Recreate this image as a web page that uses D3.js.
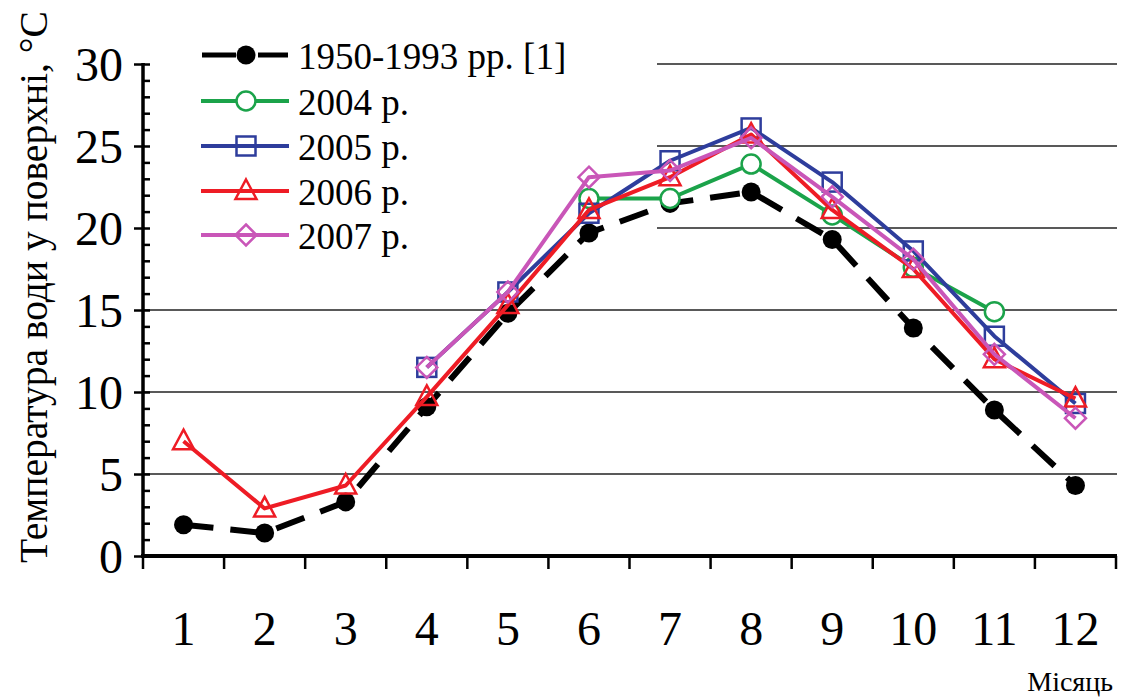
<!DOCTYPE html>
<html><head><meta charset="utf-8">
<script src="https://cdn.jsdelivr.net/npm/d3@7"></script>
<style>body{margin:0;background:#fff}svg{display:block}
svg text{font-family:"Liberation Serif","Times New Roman","Tinos","DejaVu Serif",serif;fill:#000}</style>
</head><body>
<svg id="c" width="1121" height="699"></svg>
<script>
const months = ["1","2","3","4","5","6","7","8","9","10","11","12"];
const yTicks = [0,5,10,15,20,25,30];
const seriesNames = ["1950-1993 рр. [1]","2004 р.","2005 р.","2006 р.","2007 р."];
const s1950 = [1.9,1.4,3.3,9.1,14.8,19.7,21.5,22.2,19.3,13.9,8.9,4.3];
const s2004 = [null,null,null,null,null,21.8,21.8,23.9,20.8,17.6,14.9,null];
const s2005 = [null,null,null,11.5,16.1,20.9,24.1,26.1,22.8,18.6,13.4,9.3];
const s2006 = [7.0,2.9,4.3,9.7,15.3,21.1,23.1,25.7,21.1,17.5,12.0,9.6];
const s2007 = [null,null,null,11.5,16.1,23.1,23.5,25.5,21.9,18.1,12.3,8.4];
const colors = ["#000000","#1ba34a","#2e3d9c","#ee1c25","#c956b8"];
const symbols = ["dot","circle","square","triangle","diamond"];
const seriesData = [s1950,s2004,s2005,s2006,s2007];

const svg = d3.select("#c");
const x = d3.scaleBand().domain(months).range([143,1116]);
const y = d3.scaleLinear().domain([0,30]).range([556,64]);

// gridlines
svg.append("g").selectAll("line").data(yTicks.filter(d=>d>0)).join("line")
  .attr("x1",143).attr("x2",1117).attr("y1",d=>y(d)).attr("y2",d=>y(d))
  .attr("stroke","#222").attr("stroke-width",1.3);
// legend background
svg.append("rect").attr("x",145).attr("y",0).attr("width",512).attr("height",258).attr("fill","#fff");

// axes
const yAxisMinor = d3.axisRight(y).tickValues(d3.range(0,31,1)).tickSize(7).tickFormat("");
svg.append("g").attr("transform","translate(143,0)").call(yAxisMinor)
  .call(g=>{g.select(".domain").remove();g.selectAll("line").attr("stroke","#000").attr("stroke-width",2.5);});
const yAxis = d3.axisLeft(y).tickValues(yTicks).tickSize(9).tickPadding(11);
svg.append("g").attr("transform","translate(143,0)").call(yAxis)
  .call(g=>{g.select(".domain").remove();
    g.attr("font-family",null).attr("font-size",null);
    g.selectAll("line").attr("stroke","#000").attr("stroke-width",2.5);
    g.selectAll("text").attr("font-size",48).attr("dy","0.34em");});
svg.append("line").attr("x1",143).attr("x2",143).attr("y1",y(30)-1).attr("y2",y(0)+2).attr("stroke","#000").attr("stroke-width",3.5);

// x axis
const edges = d3.range(0,13).map(i=>143 + i*x.step());
svg.append("g").selectAll("line").data(edges).join("line")
  .attr("x1",d=>d).attr("x2",d=>d).attr("y1",y(0)).attr("y2",y(0)+13)
  .attr("stroke","#000").attr("stroke-width",2.5);
svg.append("line").attr("x1",141).attr("x2",1117).attr("y1",y(0)).attr("y2",y(0)).attr("stroke","#000").attr("stroke-width",4);
svg.append("g").selectAll("text").data(months).join("text")
  .attr("x",d=>x(d)+x.bandwidth()/2).attr("y",645).attr("text-anchor","middle")
  .attr("font-size",48).text(d=>d);

// axis titles
svg.append("text").attr("transform","translate(47,287) rotate(-90)").attr("text-anchor","middle")
  .attr("font-size",39.5).text("Температура води у поверхні, °С");
svg.append("text").attr("x",1113).attr("y",691).attr("text-anchor","end")
  .attr("font-size",28).text("Місяць");

// series
const cx = d=>x(d.m)+x.bandwidth()/2;
function drawMarker(g, type, color){
  if(type==="dot") g.append("circle").attr("r",9.5).attr("fill",color);
  else if(type==="circle") g.append("circle").attr("r",9.5).attr("fill","#fff").attr("stroke",color).attr("stroke-width",2.5);
  else if(type==="square") g.append("rect").attr("x",-9.5).attr("y",-9.5).attr("width",19).attr("height",19).attr("fill","none").attr("stroke",color).attr("stroke-width",2.5);
  else if(type==="triangle") g.append("path").attr("d","M0,-11.5L10.5,8L-10.5,8Z").attr("fill","none").attr("stroke",color).attr("stroke-width",2.5);
  else if(type==="diamond") g.append("path").attr("d","M0,-10.5L10.5,0L0,10.5L-10.5,0Z").attr("fill","none").attr("stroke",color).attr("stroke-width",2.5);
}
const line = d3.line().defined(d=>d.v!=null).x(cx).y(d=>y(d.v));
seriesData.forEach((arr,i)=>{
  const pts = arr.map((v,j)=>({m:months[j],v}));
  const p = svg.append("path").datum(pts).attr("d",line).attr("fill","none")
    .attr("stroke",colors[i]).attr("stroke-width",i===0?6:4).attr("stroke-linejoin","round");
  if(i===0) p.attr("stroke-dasharray","30,17");
  pts.filter(d=>d.v!=null).forEach(d=>{
    const g = svg.append("g").attr("transform",`translate(${cx(d)},${y(d.v)})`);
    drawMarker(g, symbols[i], colors[i]);
  });
});

// legend
const legendY = [55,101,146,191,235];
seriesNames.forEach((name,i)=>{
  const ly = legendY[i];
  const g = svg.append("g");
  if(i===0){
    g.append("line").attr("x1",202).attr("x2",236).attr("y1",ly).attr("y2",ly).attr("stroke","#000").attr("stroke-width",5);
    g.append("line").attr("x1",258).attr("x2",288).attr("y1",ly).attr("y2",ly).attr("stroke","#000").attr("stroke-width",5);
  } else {
    g.append("line").attr("x1",201).attr("x2",289).attr("y1",ly).attr("y2",ly).attr("stroke",colors[i]).attr("stroke-width",4);
  }
  const mg = svg.append("g").attr("transform",`translate(246,${ly})`);
  drawMarker(mg, symbols[i], colors[i]);
  svg.append("text").attr("x",298).attr("y",ly).attr("dy","0.38em").attr("font-size",37).text(name);
});
</script>
</body></html>
